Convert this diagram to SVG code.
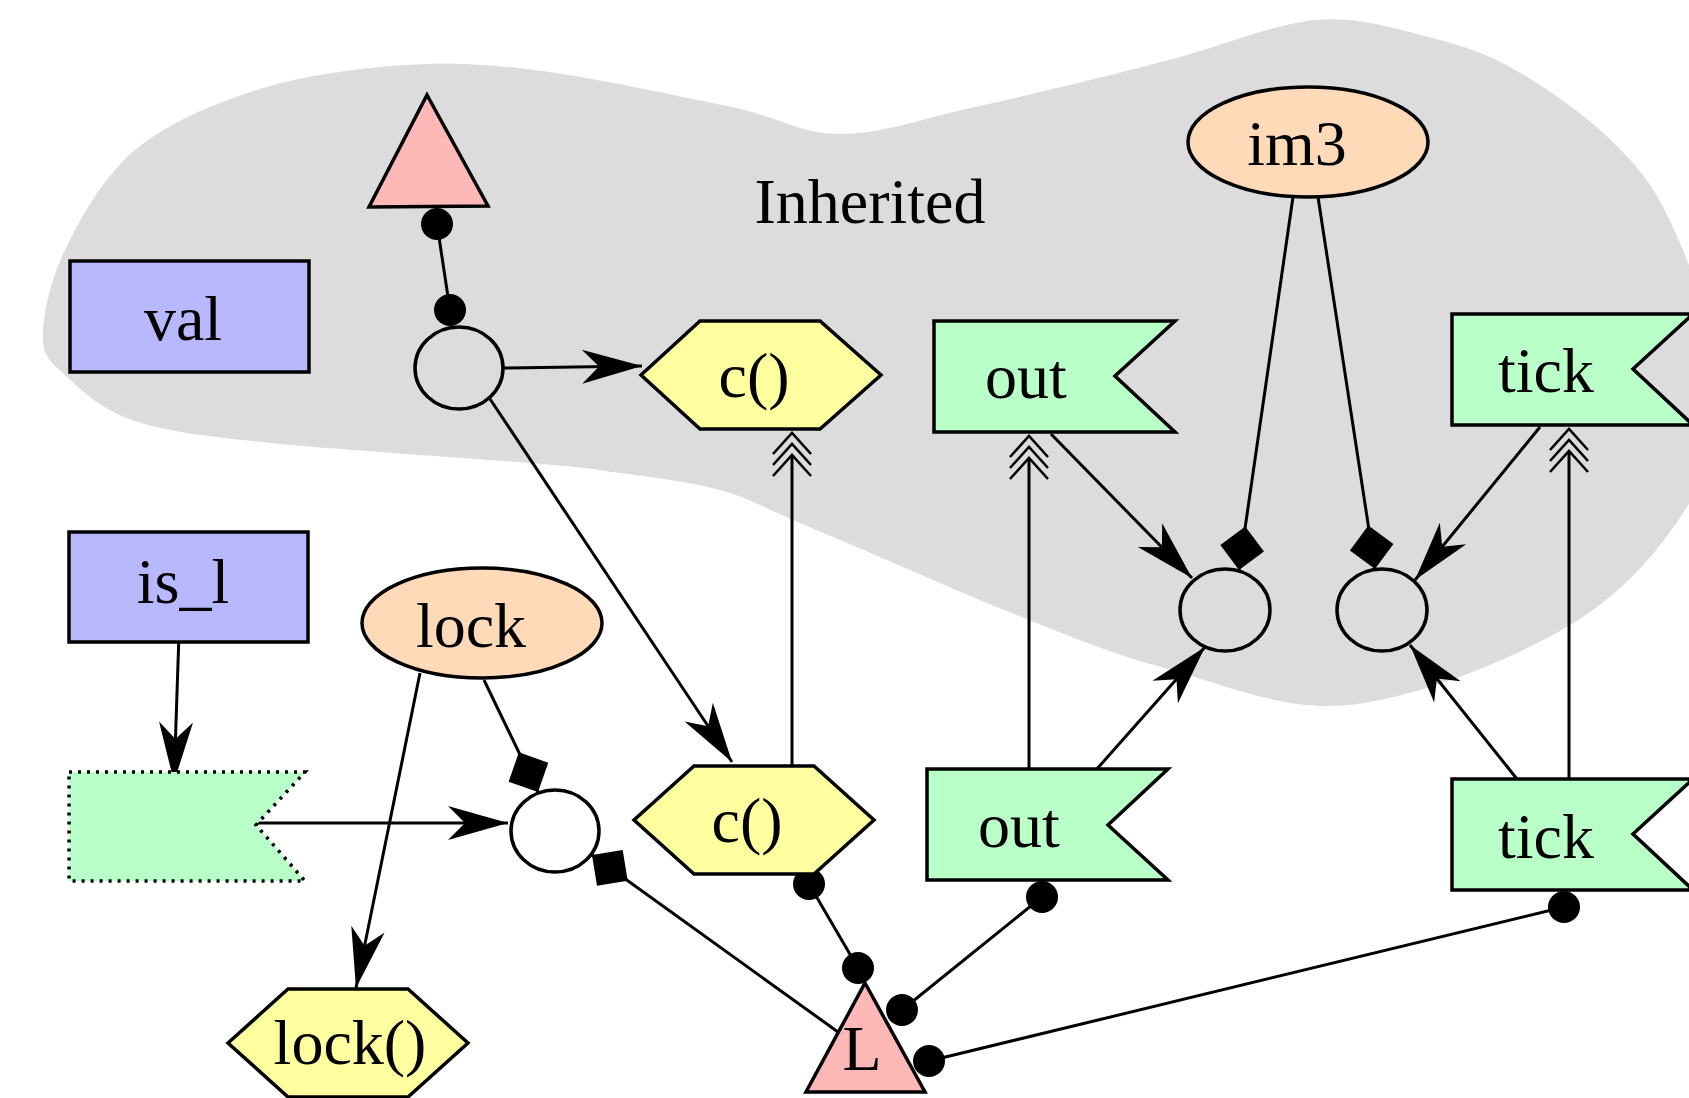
<svg xmlns="http://www.w3.org/2000/svg" width="1689" height="1098" viewBox="0 0 1689 1098">
<style>
.n{stroke:#000;stroke-width:3.5;stroke-linejoin:miter}
.e{fill:none;stroke:#000;stroke-width:3.5}
.t{font-family:"Liberation Serif","Times New Roman",serif;font-size:64px;fill:#000;text-anchor:middle}
.c{fill:none;stroke:#000;stroke-width:3}
.pink{fill:#ffb8b8}.blue{fill:#b8b8ff}.yel{fill:#ffff9f}.grn{fill:#b8ffc8}.peach{fill:#ffdab9}
</style>
<defs>
<marker id="arr" viewBox="-62 -20 64 40" refX="0" refY="0" markerWidth="64" markerHeight="40" markerUnits="userSpaceOnUse" orient="auto" overflow="visible"><path d="M0,0 L-60,-17 L-43,0 L-60,17 Z" fill="#000"/></marker>
<marker id="dia" viewBox="-46 -24 48 48" refX="0" refY="0" markerWidth="48" markerHeight="48" markerUnits="userSpaceOnUse" orient="auto" overflow="visible"><path d="M0,0 L-22,-22 L-44,0 L-22,22 Z" fill="#000"/></marker>
<marker id="dot" viewBox="-18 -18 36 36" refX="0" refY="0" markerWidth="36" markerHeight="36" markerUnits="userSpaceOnUse" overflow="visible"><circle r="16" fill="#000"/></marker>
<marker id="crow" viewBox="-24 -22 50 44" refX="0" refY="0" markerWidth="50" markerHeight="44" markerUnits="userSpaceOnUse" orient="auto" overflow="visible"><path d="M-21,-19 L0,0 L-21,19 M-10,-19 L11,0 L-10,19 M1,-19 L22,0 L1,19" fill="none" stroke="#000" stroke-width="2.6"/></marker>
</defs>
<rect width="1689" height="1098" fill="#fff"/>
<g id="cluster-inherited">
<path fill="#dcdcdc" d="M43,336 C43,315 50,281 65,250 C80,219 103,177 135,150 C168,123 215,103 260,89 C305,75 359,68 406,65 C453,62 488,64 542,71 C596,78 682,97 732,107 C782,118 800,134 840,134 C881,134 921,119 975,107 C1029,95 1108,76 1165,61 C1222,47 1271,24 1316,20 C1361,16 1403,31 1436,39 C1470,48 1487,54 1517,71 C1547,88 1588,117 1614,143 C1640,169 1654,186 1672,225 C1690,265 1718,333 1720,380 C1722,428 1711,469 1685,510 C1659,551 1621,596 1565,628 C1509,661 1416,698 1349,705 C1282,712 1218,682 1165,668 C1112,654 1075,638 1029,620 C983,602 926,577 887,560 C848,543 821,532 793,520 C765,508 749,498 720,490 C691,482 650,477 620,473 C590,469 600,469 542,464 C484,459 339,450 271,443 C203,436 169,432 135,421 C101,410 80,389 65,375 C50,361 43,357 43,336 Z"/>
<text class="t" x="870" y="223">Inherited</text>
</g>
<g id="connectors">
<path class="c" d="M437,224 L450,310" marker-start="url(#dot)" marker-end="url(#dot)"/>
<path class="c" d="M503,368 L642,366" marker-end="url(#arr)"/>
<path class="c" d="M490,399 L732,762" marker-end="url(#arr)"/>
<path class="c" d="M792,767 L792,455" marker-end="url(#crow)"/>
<path class="c" d="M1029,769 L1029,458" marker-end="url(#crow)"/>
<path class="c" d="M1569,779 L1569,451" marker-end="url(#crow)"/>
<path class="c" d="M1051,434 L1192,578" marker-end="url(#arr)"/>
<path class="c" d="M1096,770 L1205,647" marker-end="url(#arr)"/>
<path class="c" d="M1293,197 L1239,570" marker-end="url(#dia)"/>
<path class="c" d="M1318,197 L1375,569" marker-end="url(#dia)"/>
<path class="c" d="M1540,427 L1415,580" marker-end="url(#arr)"/>
<path class="c" d="M1517,779 L1410,645" marker-end="url(#arr)"/>
<path class="c" d="M179,634 L174,782" marker-end="url(#arr)"/>
<path class="c" d="M256,823 L508,823" marker-end="url(#arr)"/>
<path class="c" d="M420,673 L356,988" marker-end="url(#arr)"/>
<path class="c" d="M484,680 L538,792" marker-end="url(#dia)"/>
<path class="c" d="M838,1032 L592,855" marker-end="url(#dia)"/>
<path class="c" d="M809,884 L858,968" marker-start="url(#dot)" marker-end="url(#dot)"/>
<path class="c" d="M1042,897 L902,1010" marker-start="url(#dot)" marker-end="url(#dot)"/>
<path class="c" d="M1564,907 L929,1061" marker-start="url(#dot)" marker-end="url(#dot)"/>
</g>
<g id="n-tri-top"><polygon class="n pink" points="427,95 488,206 369,207"/></g>
<g id="n-val"><rect class="n blue" x="70" y="261" width="239" height="111"/><text class="t" x="183" y="340">val</text></g>
<g id="n-junction1"><ellipse class="e" cx="459" cy="368" rx="44" ry="41"/></g>
<g id="n-c-top"><polygon class="n yel" points="641,375 700,321 820,321 881,375 820,429 700,429"/><text class="t" x="754" y="397">c()</text></g>
<g id="n-out-top"><polygon class="n grn" points="934,321 1175,321 1115,376 1175,432 934,432"/><text class="t" x="1026" y="398">out</text></g>
<g id="n-im3"><ellipse class="n peach" cx="1308" cy="142" rx="120" ry="55"/><text class="t" x="1297" y="165">im3</text></g>
<g id="n-tick-top"><polygon class="n grn" points="1452,314 1693,314 1633,369 1693,425 1452,425"/><text class="t" x="1546" y="392">tick</text></g>
<g id="n-junctionA"><ellipse class="e" cx="1225" cy="610" rx="45" ry="41"/></g>
<g id="n-junctionB"><ellipse class="e" cx="1382" cy="610" rx="45" ry="41"/></g>
<g id="n-is_l"><rect class="n blue" x="69" y="532" width="239" height="110"/><text class="t" x="183" y="603">is_l</text></g>
<g id="n-lock"><ellipse class="n peach" cx="482" cy="623" rx="120" ry="55"/><text class="t" x="471" y="647">lock</text></g>
<g id="n-flag-dotted"><polygon class="grn" points="69,772 305,772 256,825 305,881 69,881" stroke="#000" stroke-width="3.5" stroke-dasharray="3,6"/></g>
<g id="n-junctionW"><ellipse class="e" cx="555" cy="831" rx="44" ry="41"/></g>
<g id="n-c-bottom"><polygon class="n yel" points="634,820 694,766 814,766 874,820 814,874 694,874"/><text class="t" x="747" y="842">c()</text></g>
<g id="n-out-bottom"><polygon class="n grn" points="927,769 1168,769 1108,825 1168,880 927,880"/><text class="t" x="1019" y="847">out</text></g>
<g id="n-tick-bottom"><polygon class="n grn" points="1452,779 1693,779 1633,834 1693,890 1452,890"/><text class="t" x="1546" y="858">tick</text></g>
<g id="n-lockfn"><polygon class="n yel" points="228,1043 288,989 408,989 468,1043 408,1097 288,1097"/><text class="t" x="350" y="1064">lock()</text></g>
<g id="n-L"><polygon class="n pink" points="865,983 925,1092 806,1092"/><text class="t" x="862" y="1070">L</text></g>
</svg>
